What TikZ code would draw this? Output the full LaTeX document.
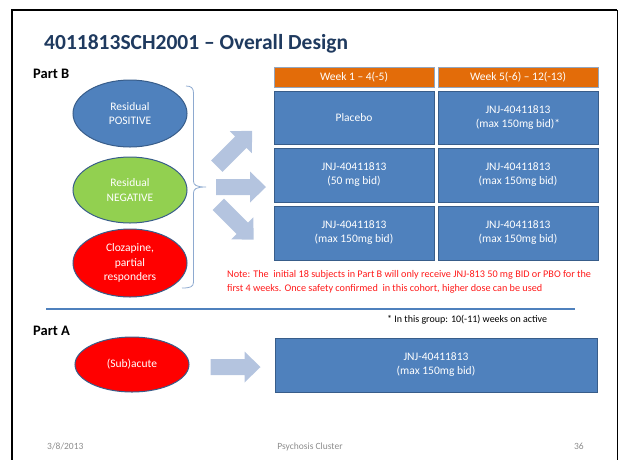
\documentclass[tikz,border=0pt]{standalone}
\usepackage{fontspec}
\setmainfont{Carlito}
\usetikzlibrary{shapes.geometric}
\definecolor{titleblue}{HTML}{1F3A5F}
\definecolor{cellblue}{HTML}{4F81BD}
\definecolor{edgeblue}{HTML}{385D8A}
\definecolor{hdrorange}{HTML}{E36C09}
\definecolor{arrowblue}{HTML}{B4C4DF}
\definecolor{bracecol}{HTML}{8EAAD0}
\definecolor{leafgreen}{HTML}{92D050}
\definecolor{footgray}{HTML}{8C8C8C}
\definecolor{notered}{HTML}{FF1A1A}
\begin{document}
\begin{tikzpicture}[x=1pt,y=-1pt,
  cell/.style={draw=edgeblue, line width=1pt, fill=cellblue, text=white,
    minimum width=160pt, minimum height=53pt, inner sep=0pt, align=center,
    font=\fontsize{11.5}{14}\selectfont},
  hdr/.style={cell, fill=hdrorange, draw=edgeblue!55, minimum height=20pt},
  group/.style={ellipse, draw=edgeblue, line width=1pt, text=white,
    minimum width=114pt, inner sep=0pt, align=center,
    font=\fontsize{11.5}{14.5}\selectfont},
  parttitle/.style={anchor=base west, inner sep=0pt, font=\fontsize{14.5}{16}\selectfont\bfseries},
  notetext/.style={anchor=base west, text=notered, inner sep=0pt, font=\fontsize{10.2}{12}\selectfont},
  footer/.style={anchor=base, inner sep=0pt, text=footgray, font=\fontsize{9.5}{11}\selectfont},
  blockarrow/.pic={\fill[arrowblue] (-25,-8) -- (9,-8) -- (9,-15.5) -- (25,0)
    -- (9,15.5) -- (9,8) -- (-25,8) -- cycle;}]
\useasboundingbox (0,0) rectangle (620,459);

% slide frame
\begin{scope}
\clip (0,0) rectangle (620,459);
\draw[line width=2.2pt] (12,470) -- (12,10) -- (617,10);
\draw[line width=1pt] (617,10) -- (617,470);
\end{scope}

% title and section labels
\node[anchor=base west, inner sep=0pt, text=titleblue, font=\fontsize{21.5}{24}\selectfont\bfseries]
  (title) at (44,49) {4011813SCH2001 – Overall Design};
\node[parttitle] (partB) at (33,78.5) {Part B};
\node[parttitle] (partA) at (33,335) {Part A};

% Part B patient groups
\node[group, fill=cellblue, minimum height=67pt] (pos) at (130,113.5) {Residual\\POSITIVE};
\node[group, fill=leafgreen, minimum height=66pt] (neg) at (130,190) {Residual\\NEGATIVE};
\node[group, fill=red, minimum height=68pt] (cloz) at (130,263) {Clozapine,\\partial\\responders};

% brace grouping the three populations
\coordinate (braceTop) at (186,86);
\coordinate (braceTip) at (206,187);
\coordinate (braceBot) at (182,288);
\draw[bracecol, line width=0.8pt]
  (braceTop) .. controls (191,86) and (193.5,88) .. (193.5,93) -- (193.5,181)
  .. controls (193.5,185) and (196,187) .. (braceTip)
  .. controls (196,187) and (193.5,189) .. (193.5,193) -- (193.5,282)
  .. controls (193.5,287) and (190,288) .. (braceBot);

% randomisation arrows
\pic[rotate=45] at (234.5,148.5) {blockarrow};
\pic at (241,187) {blockarrow};
\pic[rotate=-45] at (236,222) {blockarrow};

% treatment table
\node[hdr] (h1) at (354,77) {Week 1 – 4(-5)};
\node[hdr] (h2) at (518,77) {Week 5(-6) – 12(-13)};
\node[cell] (r1c1) at (354,117.5) {Placebo};
\node[cell] (r1c2) at (518,117.5) {JNJ-40411813\\(max 150mg bid)*};
\node[cell, minimum height=54pt] (r2c1) at (354,175) {JNJ-40411813\\(50 mg bid)};
\node[cell, minimum height=54pt] (r2c2) at (518,175) {JNJ-40411813\\(max 150mg bid)};
\node[cell, minimum height=54pt] (r3c1) at (354,233) {JNJ-40411813\\(max 150mg bid)};
\node[cell, minimum height=54pt] (r3c2) at (518,233) {JNJ-40411813\\(max 150mg bid)};

% safety note
\node[notetext] (note1) at (227,277.5)
  {Note: The\ \ initial 18 subjects in Part B will only receive JNJ-813 50 mg BID or PBO for the};
\node[notetext] (note2) at (227,291.5)
  {first 4 weeks. Once safety confirmed\ \ in this cohort, higher dose can be used};

% divider between parts
\draw[cellblue, line width=2.5pt] (46,309) -- (575,309);
\node[anchor=base west, font=\fontsize{10}{12}\selectfont, inner sep=0pt]
  (footnote) at (387,322.5) {* In this group: 10(-11) weeks on active};

% Part A
\node[group, fill=red, minimum height=55pt] (sub) at (132,364.5) {(Sub)acute};
\pic at (235.5,367) {blockarrow};
\node[cell, minimum width=322pt, minimum height=54pt] (armA) at (436,365)
  {JNJ-40411813\\(max 150mg bid)};

% footer
\node[footer, anchor=base west] (date) at (47,449.5) {3/8/2013};
\node[footer] (cluster) at (310,449.5) {Psychosis Cluster};
\node[footer, anchor=base east] (page) at (584,449.5) {36};
\end{tikzpicture}
\end{document}
